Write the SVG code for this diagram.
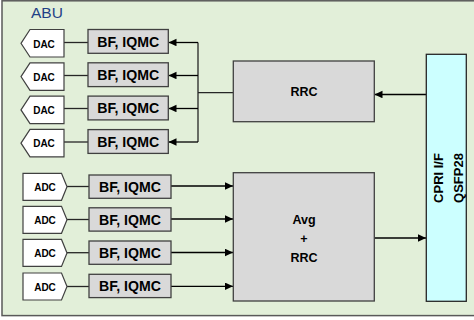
<svg xmlns="http://www.w3.org/2000/svg" width="474" height="320" viewBox="0 0 474 320">
<style>
.frame{fill:#e2efd9;stroke:#595959;stroke-width:1.5}
.conv{fill:#ffffff;stroke:#404040;stroke-width:1.2}
.box{fill:#d9d9d9;stroke:#404040;stroke-width:1.3}
.cpri{fill:#ccffff;stroke:#262626;stroke-width:1.3}
.t{font-family:"Liberation Sans",Arial,sans-serif;font-weight:bold;fill:#000000;text-anchor:middle}
.small{font-size:10px}
.bf{font-size:14px}
.mid{font-size:12.5px}
.big{font-size:13px}
.ln{stroke:#262626;stroke-width:1.3;fill:none}
.arr{stroke:#000000;stroke-width:1.3;fill:none;marker-end:url(#ah)}
</style>
<defs>
<marker id="ah" markerUnits="userSpaceOnUse" markerWidth="8" markerHeight="8" refX="8" refY="3.75" orient="auto">
<path d="M0,0 L8,3.75 L0,7.5 Z" fill="#000000"/>
</marker>
</defs>
<rect class="frame" x="2" y="0.8" width="480" height="314.8"/>
<text x="31" y="17.5" font-family="'Liberation Sans',Arial,sans-serif" font-size="15.5" fill="#1f3f86">ABU</text>

<g id="connectors">
<line class="ln" x1="64" y1="42.5" x2="88" y2="42.5"/>
<line class="ln" x1="64" y1="75.5" x2="88" y2="75.5"/>
<line class="ln" x1="64" y1="108.5" x2="88" y2="108.5"/>
<line class="ln" x1="64" y1="142" x2="88" y2="142"/>
<line class="ln" x1="198" y1="42.5" x2="198" y2="142"/>
<line class="ln" x1="198" y1="92.7" x2="233.3" y2="92.7"/>
<line class="arr" x1="198" y1="42.5" x2="168.5" y2="42.5"/>
<line class="arr" x1="198" y1="75.5" x2="168.5" y2="75.5"/>
<line class="arr" x1="198" y1="108.5" x2="168.5" y2="108.5"/>
<line class="arr" x1="198" y1="142" x2="168.5" y2="142"/>
<line class="arr" x1="426.3" y1="94.5" x2="374.5" y2="94.5"/>
<line class="ln" x1="67" y1="186.5" x2="89" y2="186.5"/>
<line class="ln" x1="67" y1="219.5" x2="89" y2="219.5"/>
<line class="ln" x1="67" y1="252.7" x2="89" y2="252.7"/>
<line class="ln" x1="67" y1="286.5" x2="89" y2="286.5"/>
<line class="arr" x1="171" y1="186" x2="233" y2="186"/>
<line class="arr" x1="171" y1="219" x2="233" y2="219"/>
<line class="arr" x1="171" y1="252.5" x2="233" y2="252.5"/>
<line class="arr" x1="171" y1="286.3" x2="233" y2="286.3"/>
<line class="arr" x1="374.3" y1="238" x2="426" y2="238"/>
</g>

<g id="dac1"><polygon class="conv" points="21,43.3 30,29.5 64,29.5 64,57 30,57"/><text class="t small" x="44" y="47.5">DAC</text></g>
<g id="dac2"><polygon class="conv" points="21,76.6 30,62.8 64,62.8 64,90.3 30,90.3"/><text class="t small" x="44" y="80.8">DAC</text></g>
<g id="dac3"><polygon class="conv" points="21,109.9 30,96.1 64,96.1 64,123.6 30,123.6"/><text class="t small" x="44" y="114.1">DAC</text></g>
<g id="dac4"><polygon class="conv" points="21,143.2 30,129.4 64,129.4 64,156.9 30,156.9"/><text class="t small" x="44" y="147.4">DAC</text></g>

<g id="bfd1"><rect class="box" x="88" y="29.5" width="80.3" height="23.8"/><text class="t bf" x="128.2" y="46.5" textLength="62" lengthAdjust="spacingAndGlyphs">BF, IQMC</text></g>
<g id="bfd2"><rect class="box" x="88" y="62.8" width="80.3" height="23.8"/><text class="t bf" x="128.2" y="79.8" textLength="62" lengthAdjust="spacingAndGlyphs">BF, IQMC</text></g>
<g id="bfd3"><rect class="box" x="88" y="96.1" width="80.3" height="23.8"/><text class="t bf" x="128.2" y="113.1" textLength="62" lengthAdjust="spacingAndGlyphs">BF, IQMC</text></g>
<g id="bfd4"><rect class="box" x="88" y="129.6" width="80.3" height="23.8"/><text class="t bf" x="128.2" y="146.6" textLength="62" lengthAdjust="spacingAndGlyphs">BF, IQMC</text></g>

<g id="rrc"><rect class="box" x="233.3" y="61" width="141" height="60.7"/><text class="t mid" x="304" y="96.3">RRC</text></g>

<g id="adc1"><polygon class="conv" points="23,173.3 61.5,173.3 67,186.8 61.5,200.3 23,200.3"/><text class="t small" x="45" y="190.8">ADC</text></g>
<g id="adc2"><polygon class="conv" points="23,206.3 61.5,206.3 67,219.8 61.5,233.3 23,233.3"/><text class="t small" x="45" y="223.8">ADC</text></g>
<g id="adc3"><polygon class="conv" points="23,239.4 61.5,239.4 67,252.9 61.5,266.4 23,266.4"/><text class="t small" x="45" y="256.9">ADC</text></g>
<g id="adc4"><polygon class="conv" points="23,273 61.5,273 67,286.5 61.5,300 23,300"/><text class="t small" x="45" y="290.5">ADC</text></g>

<g id="bfa1"><rect class="box" x="89" y="175" width="82" height="23.3"/><text class="t bf" x="130" y="191.8" textLength="62" lengthAdjust="spacingAndGlyphs">BF, IQMC</text></g>
<g id="bfa2"><rect class="box" x="89" y="207.8" width="82" height="23.3"/><text class="t bf" x="130" y="224.6" textLength="62" lengthAdjust="spacingAndGlyphs">BF, IQMC</text></g>
<g id="bfa3"><rect class="box" x="89" y="241" width="82" height="23.3"/><text class="t bf" x="130" y="257.8" textLength="62" lengthAdjust="spacingAndGlyphs">BF, IQMC</text></g>
<g id="bfa4"><rect class="box" x="89" y="274.3" width="82" height="23.3"/><text class="t bf" x="130" y="291.1" textLength="62" lengthAdjust="spacingAndGlyphs">BF, IQMC</text></g>

<g id="avg"><rect class="box" x="233.3" y="172.7" width="141" height="128.3"/>
<text class="t mid" x="304" y="224">Avg</text>
<text class="t mid" x="304" y="242.8">+</text>
<text class="t mid" x="304" y="261.7">RRC</text></g>

<g id="cpri"><rect class="cpri" x="426.3" y="54.3" width="40" height="247"/>
<text class="t big" transform="translate(443,178) rotate(-90)" x="0" y="0">CPRI I/F</text>
<text class="t big" transform="translate(463,178) rotate(-90)" x="0" y="0">QSFP28</text></g>
</svg>
